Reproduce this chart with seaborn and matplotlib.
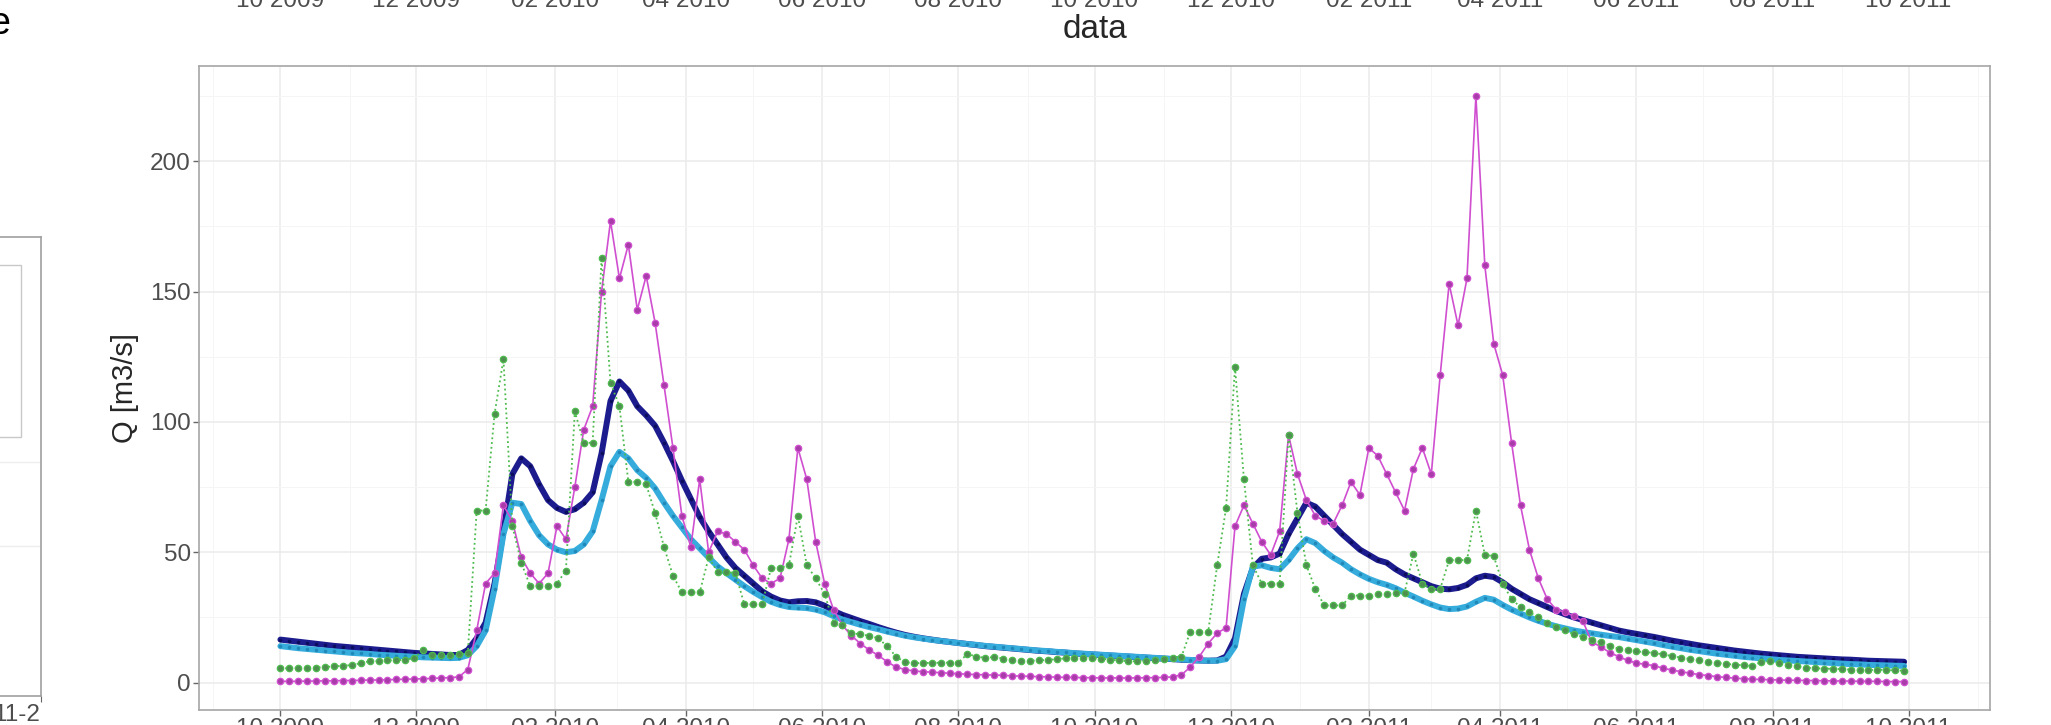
import pandas as pd
import seaborn as sns
import matplotlib.pyplot as plt
import matplotlib.dates as mdates
from matplotlib.ticker import MultipleLocator
from matplotlib.patches import Rectangle

# portate, un valore ogni 4 giorni dal 1 ottobre 2009
start = '2009-10-01'
step = '4D'

q_oss = [
    0.5, 0.5, 0.5, 0.6, 0.6, 0.7, 0.7, 0.8, 0.8, 0.9,
    1.0, 1.0, 1.1, 1.2, 1.3, 1.4, 1.5, 1.6, 1.8, 1.9,
    2.2, 5, 20, 38, 42, 68, 62, 48, 42, 38,
    42, 60, 55, 75, 97, 106, 150, 177, 155, 168,
    143, 156, 138, 114, 90, 64, 52, 78, 50, 58,
    57, 54, 51, 45, 40, 38, 40, 55, 90, 78,
    54, 38, 28, 22, 18, 15, 12.5, 10.5, 8, 6,
    5, 4.5, 4.2, 4.0, 3.8, 3.6, 3.4, 3.2, 3.1, 3.0,
    2.9, 2.8, 2.6, 2.5, 2.4, 2.3, 2.2, 2.1, 2.0, 2.0,
    1.9, 1.9, 1.8, 1.8, 1.8, 1.8, 1.8, 1.9, 1.9, 2.0,
    2.2, 3, 6, 10, 15, 19, 21, 60, 68, 61,
    54, 49, 58, 95, 80, 70, 64, 62, 61, 68,
    77, 72, 90, 87, 80, 73, 66, 82, 90, 80,
    118, 153, 137, 155, 225, 160, 130, 118, 92, 68,
    51, 40, 32, 28, 27, 25.5, 23.5, 15.5, 13.8, 11.5,
    10, 8.5, 7.5, 7.0, 6.5, 5.5, 4.8, 4.2, 3.6, 3.1,
    2.7, 2.3, 2.0, 1.7, 1.5, 1.3, 1.2, 1.1, 1.0, 0.9,
    0.9, 0.8, 0.8, 0.7, 0.7, 0.6, 0.6, 0.5, 0.5, 0.5,
    0.4, 0.4, 0.4,
]

q_verde = [
    5.5, 5.5, 5.6, 5.7, 5.8, 6.0, 6.2, 6.5, 6.7, 7.5,
    8.2, 8.3, 8.5, 8.6, 8.8, 9.5, 12.5, 10.5, 10.5, 10.6,
    10.8, 11.2, 66, 66, 103, 124, 60, 46, 37, 37,
    37, 38, 43, 104, 92, 92, 163, 115, 106, 77,
    77, 76, 65, 52, 41, 34.6, 34.6, 34.6, 48, 42.5,
    42.5, 42, 30, 30, 30, 44, 44, 45, 64, 45,
    40, 34, 23, 22, 19, 18.5, 18, 17, 14, 10,
    7.8, 7.5, 7.5, 7.6, 7.6, 7.7, 7.7, 11, 10, 9.5,
    9.8, 9.2, 8.8, 8.4, 8.4, 8.5, 8.7, 9.0, 9.3, 9.5,
    9.6, 9.4, 9.2, 8.8, 8.5, 8.2, 8.2, 8.4, 8.8, 9.2,
    9.6, 10.0, 19.6, 19.6, 19.6, 45, 67, 121, 78, 45,
    38, 38, 38, 95, 65, 45, 36, 29.6, 29.6, 29.6,
    33.4, 33.4, 33.4, 34, 34, 34.5, 34.5, 49.5, 38, 36,
    36, 47, 47, 47, 66, 49, 48.5, 38, 32, 29,
    27, 25, 23, 21.5, 20, 18.5, 17.5, 16.5, 15.5, 14.2,
    13, 12.5, 12, 11.7, 11.4, 10.8, 10.2, 9.6, 9.0, 8.5,
    8.0, 7.6, 7.2, 6.9, 6.6, 6.4, 8.0, 8.2, 7.5, 6.8,
    6.2, 5.8, 5.5, 5.4, 5.3, 5.2, 5.0, 4.9, 4.8, 5.0,
    4.8, 4.7, 4.6,
]

q_blu = [
    16.5, 16.1, 15.7, 15.3, 14.9, 14.5, 14.1, 13.8, 13.5, 13.2,
    12.9, 12.6, 12.3, 12.0, 11.7, 11.4, 11.2, 11.0, 10.8, 10.6,
    10.6, 12.5, 17, 23, 38, 58, 80, 86, 83, 76,
    70, 67, 65.5, 66.5, 69, 73, 88, 108, 115.5, 112,
    106, 102.5, 98.5, 92, 85, 77.5, 70.5, 63.5, 58, 53,
    48, 44, 41, 38, 35, 33, 31.5, 30.8, 31.2, 31.3,
    30.8, 29.5, 27.5, 26, 24.8, 23.6, 22.5, 21.3, 20.2, 19.2,
    18.3, 17.6, 17.0, 16.5, 16.0, 15.6, 15.2, 14.8, 14.4, 14.0,
    13.7, 13.4, 13.1, 12.8, 12.5, 12.2, 12.0, 11.7, 11.5, 11.2,
    11.0, 10.8, 10.6, 10.4, 10.2, 10.0, 9.8, 9.6, 9.4, 9.2,
    9.0, 8.8, 8.6, 8.5, 8.4, 8.5, 10, 17, 34, 44,
    47.5, 48, 49.5, 57, 63, 69, 67.5, 64, 60.5, 57,
    54, 51, 49, 47, 46, 43.5, 41.5, 40, 38.5, 37,
    36, 35.8, 36.3, 37.5, 40, 41, 40.5, 38.5, 36, 34,
    32, 30.5, 29, 27.5, 26.2, 25, 24, 23, 22, 21,
    20, 19.3, 18.7, 18.1, 17.5, 16.8, 16.1, 15.5, 14.9, 14.3,
    13.8, 13.3, 12.8, 12.3, 11.9, 11.5, 11.1, 10.8, 10.5, 10.2,
    9.9, 9.7, 9.5, 9.3, 9.1, 8.9, 8.8, 8.6, 8.4, 8.3,
    8.2, 8.1, 8.0,
]

q_azzurro = [
    14.0, 13.6, 13.2, 12.9, 12.6, 12.3, 12.0, 11.7, 11.4, 11.2,
    11.0, 10.7, 10.5, 10.3, 10.1, 9.9, 9.7, 9.6, 9.5, 9.4,
    9.5, 10.5, 14, 20, 36, 57, 69, 68.5, 62, 56.5,
    53, 51, 50, 50.5, 53, 58, 70, 83, 88.5, 86,
    81.5, 78.5, 74.5, 69, 64, 59.5, 55, 51.5, 48, 44.6,
    42, 39.5, 37, 34.8, 32.8, 31, 29.8, 29, 28.8, 28.6,
    28, 27, 25.5, 24.2, 23.2, 22.2, 21.3, 20.5, 19.6, 18.8,
    18.0, 17.4, 16.9, 16.4, 16.0, 15.6, 15.2, 14.8, 14.5, 14.1,
    13.8, 13.5, 13.2, 12.9, 12.6, 12.3, 12.1, 11.8, 11.6, 11.3,
    11.1, 10.9, 10.7, 10.5, 10.3, 10.1, 9.9, 9.7, 9.5, 9.3,
    9.1, 8.9, 8.7, 8.5, 8.4, 8.4, 9.0, 14, 32, 44.5,
    45, 44, 43.5, 47, 51.5, 55, 53.5, 50.5, 48, 46,
    43.5, 41.5, 39.8, 38.5, 37.5, 36.2, 34.5, 33, 31.4, 30,
    28.8, 28.2, 28.4, 29.2, 31, 32.5, 31.8, 29.8, 28, 26.5,
    25, 23.7, 22.6, 21.6, 20.8, 20, 19.4, 18.9, 18.4, 17.9,
    17.5, 16.9, 16.3, 15.7, 15.1, 14.4, 13.8, 13.2, 12.6, 12.1,
    11.6, 11.1, 10.7, 10.3, 9.9, 9.6, 9.3, 9.0, 8.7, 8.5,
    8.3, 8.1, 7.9, 7.7, 7.5, 7.3, 7.1, 7.0, 6.8, 6.7,
    6.6, 6.5, 6.4,
]

y_ticks = [0, 50, 100, 150, 200]

series = {'Q modello 2': q_blu, 'Q modello 3': q_azzurro,
          'Q osservata': q_oss, 'Q modello 1': q_verde}
frames = []
for name, values in series.items():
    frames.append(pd.DataFrame({'data': pd.date_range(start, periods=len(values), freq=step),
                                'Q': values, 'serie': name}))
df = pd.concat(frames, ignore_index=True)

styles = {
    'Q modello 2': dict(color='#1c1c8e', linewidth=4.3, marker='o', markersize=2.6,
                        markerfacecolor='#0c0c5c', markeredgewidth=0),
    'Q modello 3': dict(color='#36acdc', linewidth=4.3, marker='o', markersize=2.6,
                        markerfacecolor='#2088b8', markeredgewidth=0),
    'Q osservata': dict(color='#d04ed0', linewidth=1.2, marker='o', markersize=4.6,
                        markerfacecolor='#a83ca8', markeredgecolor='#d050d0', markeredgewidth=0.9),
    'Q modello 1': dict(color='#4dbb4d', linewidth=1.3, linestyle=':', marker='o', markersize=4.6,
                        markerfacecolor='#4f8f4f', markeredgecolor='#4dbb4d', markeredgewidth=0.9),
}

sns.set_style('whitegrid')
plt.rcParams['font.family'] = ['Liberation Sans', 'DejaVu Sans']

W, H = 2051, 725
fig = plt.figure(figsize=(W / 100, H / 100), dpi=100)
ax = fig.add_axes([199 / W, 15 / H, 1791 / W, 644 / H])

for name in series:
    sns.lineplot(data=df[df.serie == name], x='data', y='Q', ax=ax,
                 estimator=None, sort=False, legend=False, **styles[name])

x0 = pd.Timestamp(start) - pd.Timedelta(days=36.5)
x1 = pd.Timestamp('2011-10-01') + pd.Timedelta(days=36.5)
ax.set_xlim(x0, x1)
ax.set_ylim(-10.5, 236.5)
ax.set_yticks(y_ticks)
ax.yaxis.set_minor_locator(MultipleLocator(25))
ax.xaxis.set_major_locator(mdates.MonthLocator(bymonth=[2, 4, 6, 8, 10, 12]))
ax.xaxis.set_minor_locator(mdates.MonthLocator(bymonth=[1, 3, 5, 7, 9, 11]))
ax.xaxis.set_major_formatter(mdates.DateFormatter('%m %Y'))

ax.grid(which='major', color='#ebebeb', linewidth=1.1)
ax.grid(which='minor', color='#f5f5f5', linewidth=0.7)
ax.set_axisbelow(True)
ax.tick_params(which='major', bottom=True, left=True, direction='out', length=4, width=1,
               color='#666666', labelsize=17.5, labelcolor='#4d4d4d', pad=2)
ax.tick_params(which='minor', length=0)
for sp in ax.spines.values():
    sp.set_color('#a6a6a6')
    sp.set_linewidth(1.2)
ax.set_xlabel('')
ax.set_ylabel('Q [m3/s]', fontsize=21, labelpad=8)

# pannello superiore, tagliato fuori dall'immagine
ax_top = fig.add_axes([199 / W, 1 + 18 / H, 1791 / W, 0.3], sharex=ax)
ax_top.set_yticks([])
ax_top.grid(False)
for sp in ax_top.spines.values():
    sp.set_visible(False)
ax_top.tick_params(axis='x', which='both', length=0, labelsize=17.5, labelcolor='#4d4d4d', pad=6)
ax_top.set_xlabel('data', fontsize=24, labelpad=1)

# pannello a sinistra, tagliato
ax_left = fig.add_axes([-150 / W, 29 / H, 191 / W, 459 / H])
ax_left.set_xlim(0, 1)
ax_left.set_ylim(0, 1)
ax_left.set_yticks([])
ax_left.set_xticks([1.0])
ax_left.set_xticklabels([''])
ax_left.grid(False)
ax_left.tick_params(axis='x', bottom=True, length=4, color='#666666')
for yy in [0.327, 0.51]:
    ax_left.axhline(yy, color='#eeeeee', linewidth=1)
for sp in ax_left.spines.values():
    sp.set_color('#a0a0a0')
    sp.set_linewidth(1.2)
fig.add_artist(Rectangle((-100 / W, 288 / H), 121 / W, 172 / H, transform=fig.transFigure,
                         fill=False, edgecolor='#c8c8c8', linewidth=1))
fig.text(40 / W, 1 - 721 / H, '11-2', ha='right', va='baseline', fontsize=17.5, color='#4d4d4d')
fig.text(-11 / W, 1 - 34 / H, 'e', ha='left', va='baseline', fontsize=27, color='black')

fig.savefig('out.png', dpi=100)
